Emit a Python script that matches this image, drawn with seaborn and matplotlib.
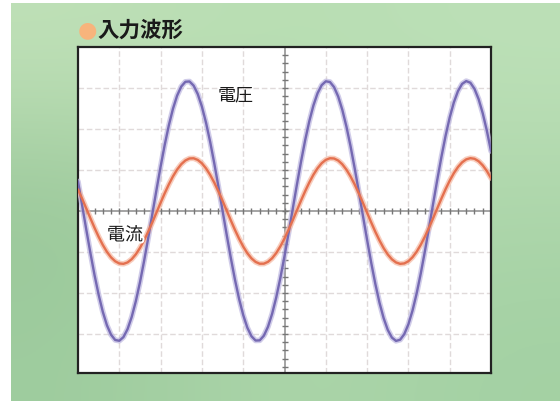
import numpy as np
import pandas as pd
import matplotlib
matplotlib.use("Agg")
import matplotlib.pyplot as plt
import matplotlib.patheffects as pe
import seaborn as sns

# ---- data (oscilloscope divisions, sampled every 0.1 div) ----
time_div = [round(0.1 * k, 1) for k in range(101)]
voltage = [0.722, 0.138, -0.449, -1.022, -1.560, -2.043, -2.456, -2.785, -3.017, -3.145,
           -3.164, -3.075, -2.880, -2.584, -2.199, -1.741, -1.221, -0.658, -0.074, 0.514,
           1.083, 1.616, 2.092, 2.496, 2.815, 3.036, 3.152, 3.160, 3.058, 2.852,
           2.546, 2.153, 1.686, 1.161, 0.595, 0.009, -0.577, -1.144, -1.671, -2.141,
           -2.535, -2.844, -3.054, -3.158, -3.154, -3.041, -2.823, -2.507, -2.106, -1.631,
           -1.100, -0.531, 0.055, 0.641, 1.204, 1.726, 2.188, 2.574, 2.872, 3.070,
           3.163, 3.147, 3.022, 2.793, 2.467, 2.057, 1.576, 1.039, 0.467, -0.121,
           -0.704, -1.264, -1.779, -2.235, -2.611, -2.898, -3.086, -3.167, -3.139, -3.002,
           -2.762, -2.426, -2.008, -1.519, -0.978, -0.403, 0.185, 0.767, 1.323, 1.833,
           2.280, 2.648, 2.924, 3.100, 3.169, 3.129, 2.980, 2.729, 2.384, 1.957, 1.462]
current = [0.527, 0.300, 0.063, -0.176, -0.409, -0.629, -0.826, -0.995, -1.130, -1.225,
           -1.279, -1.288, -1.253, -1.175, -1.056, -0.901, -0.714, -0.503, -0.275, -0.037,
           0.202, 0.434, 0.651, 0.846, 1.011, 1.142, 1.233, 1.282, 1.286, 1.246,
           1.164, 1.040, 0.881, 0.692, 0.479, 0.249, 0.011, -0.228, -0.459, -0.674,
           -0.866, -1.028, -1.154, -1.241, -1.285, -1.284, -1.239, -1.152, -1.025, -0.862,
           -0.670, -0.454, -0.223, 0.015, 0.254, 0.483, 0.696, 0.885, 1.043, 1.166,
           1.248, 1.287, 1.281, 1.232, 1.140, 1.008, 0.842, 0.647, 0.430, 0.197,
           -0.042, -0.280, -0.508, -0.718, -0.904, -1.059, -1.177, -1.254, -1.288, -1.278,
           -1.224, -1.127, -0.992, -0.822, -0.624, -0.405, -0.171, 0.068, 0.305, 0.532,
           0.740, 0.923, 1.073, 1.187, 1.260, 1.289, 1.274, 1.215, 1.114, 0.975, 0.802]
title_text = "入力波形"
label_voltage = "電圧"
label_current = "電流"

sns.set_style("white")
plt.rcParams['font.family'] = ['Noto Sans CJK JP', 'DejaVu Sans']

fig = plt.figure(figsize=(5.6, 4.01), dpi=100)
fig.patch.set_facecolor("white")

# green backdrop with gentle shading
bg = fig.add_axes([11 / 560, 0, 1 - 11 / 560, 1 - 3 / 401])
shade = np.array([[[0.75, 0.88, 0.72], [0.72, 0.87, 0.70], [0.74, 0.88, 0.72]],
                  [[0.60, 0.78, 0.60], [0.70, 0.85, 0.68], [0.68, 0.84, 0.67]],
                  [[0.62, 0.80, 0.62], [0.68, 0.84, 0.67], [0.64, 0.82, 0.64]]])
bg.imshow(shade, aspect="auto", interpolation="bicubic", extent=(0, 1, 0, 1))
bg.set_xticks([])
bg.set_yticks([])
for s in bg.spines.values():
    s.set_visible(False)

ax = fig.add_axes([78 / 560, 1 - 373 / 401, 413 / 560, 326 / 401])
ax.set_facecolor("white")
ax.set_xlim(0, 10)
ax.set_ylim(-3.95, 4.0)

# grid
for gx in range(1, 10):
    if gx != 5:
        ax.axvline(gx, color="#e0dada", lw=1.0, ls=(0, (4, 2)), zorder=1)
for gy in range(-3, 4):
    if gy != 0:
        ax.axhline(gy, color="#e0dada", lw=1.0, ls=(0, (4, 2)), zorder=1)
ax.axhline(0, color="#8c8c8c", lw=1.1, zorder=2)
ax.axvline(5, color="#8c8c8c", lw=1.1, zorder=2)
tx = np.arange(0.2, 10, 0.2)
ax.plot(tx, np.zeros_like(tx), ls="none", marker="|", ms=4, mew=1.0, color="#777777", zorder=2)
ty = np.arange(-3.8, 4.0, 0.2)
ax.plot(np.full_like(ty, 5.0), ty, ls="none", marker="_", ms=4, mew=1.0, color="#777777", zorder=2)

df = pd.DataFrame({"t": time_div, "voltage": voltage, "current": current})
# soft glow under each trace
sns.lineplot(data=df, x="t", y="voltage", ax=ax, color="#bdb7e0", lw=4.0, zorder=3, alpha=0.7)
sns.lineplot(data=df, x="t", y="current", ax=ax, color="#f5b8a2", lw=4.0, zorder=3, alpha=0.7)
sns.lineplot(data=df, x="t", y="voltage", ax=ax, color="#7569b2", lw=1.7, zorder=4)
sns.lineplot(data=df, x="t", y="current", ax=ax, color="#e4704f", lw=1.7, zorder=4)

ax.set_xlabel("")
ax.set_ylabel("")
ax.set_xticks([])
ax.set_yticks([])
for s in ax.spines.values():
    s.set_visible(True)
    s.set_color("#222222")
    s.set_linewidth(1.6)

ax.text(3.39, 2.83, label_voltage, fontsize=13, color="#1a1a1a", ha="left", va="center", zorder=6)
ax.text(0.70, -0.59, label_current, fontsize=13, color="#1a1a1a", ha="left", va="center", zorder=6,
        path_effects=[pe.withStroke(linewidth=3, foreground="white")])

fig.text(78 / 560, 1 - 30 / 401, "●", fontsize=16, color="#f7b47c", ha="left", va="center",
         family=['DejaVu Sans'])
fig.text(97 / 560, 1 - 30 / 401, title_text, fontsize=15.5, fontweight="bold", color="#1a1a1a",
         ha="left", va="center")

fig.savefig("out.png", dpi=100)
